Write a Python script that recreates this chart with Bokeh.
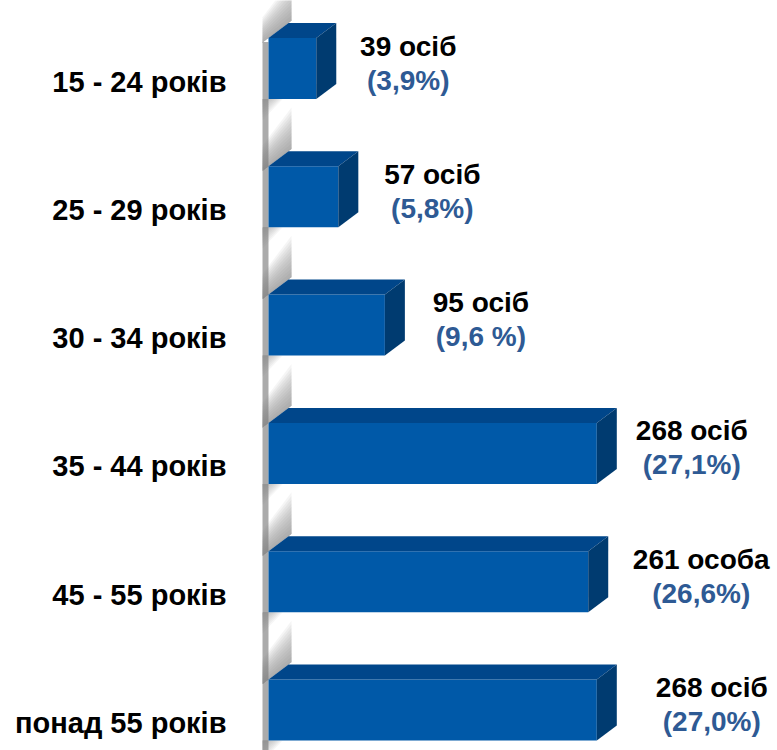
from bokeh.plotting import figure
from bokeh.models import Range1d
from bokeh.embed import file_html
from bokeh.resources import INLINE
from bokeh.core.properties import value

categories = ["15 - 24 років", "25 - 29 років", "30 - 34 років", "35 - 44 років", "45 - 55 років", "понад 55 років"]
counts = [39, 57, 95, 268, 261, 268]
count_labels = ["39 осіб", "57 осіб", "95 осіб", "268 осіб", "261 особа", "268 осіб"]
pct_labels = ["(3,9%)", "(5,8%)", "(9,6 %)", "(27,1%)", "(26,6%)", "(27,0%)"]

# label horizontal nudges (pixels, style only)
label_dx_px = [72, 74, 76, 75, 93, 95]

W, H = 777, 750
PX_X = 1.225           # pixels per person
PX_Y = 128.3           # pixels per row
x0 = -268 / PX_X
y0 = -(750 - 709.5) / PX_Y

def ux(px):
    return px / PX_X

def uy(px):
    return px / PX_Y

p = figure(width=W, height=H, output_backend="svg", toolbar_location=None,
           x_range=Range1d(x0, x0 + W / PX_X), y_range=Range1d(y0, y0 + H / PX_Y),
           min_border=0, outline_line_color=None, background_fill_color="white")
p.axis.visible = False
p.grid.visible = False

n = len(categories)
ypos = [n - 1 - i for i in range(n)]
hh = uy(30.5)
dx = ux(20)
dy = uy(15)

# wall strip
p.quad(left=[ux(-6)], right=[0], bottom=[y0], top=[ypos[0] + hh - uy(4)],
       fill_color="#ababab", line_color=None)

# shadow gradients on the wall above each bar (darker toward bar top edge and right)
steps = 12
xl, xr = ux(-6), dx + ux(3)
for i in range(n):
    yb = ypos[i] + hh
    yl = yb - uy(4.5)
    yr = yb + dy + uy(2.25)
    for s in range(steps):
        hl = uy(1 + s * 2.2)
        hr = uy(2 + s * 3.6)
        p.patch([xl, xr, xr, xl], [yl, yr, yr + hr, yl + hl],
                fill_color="#7a7a7a", fill_alpha=0.08, line_color=None)

# soft shadow just below each bar on the wall strip
for i in range(n):
    ybot = ypos[i] - hh
    for s in range(8):
        w = ux(3 + s * 1.6)
        h = uy(3 + s * 2.6)
        p.patch([ux(-6), w, ux(-6)], [ybot, ybot, ybot - h],
                fill_color="#7a7a7a", fill_alpha=0.07, line_color=None)

# bars
tops_x, tops_y, sides_x, sides_y = [], [], [], []
for i in range(n):
    v = counts[i]
    y = ypos[i]
    tops_x.append([0, v, v + dx, dx])
    tops_y.append([y + hh, y + hh, y + hh + dy, y + hh + dy])
    sides_x.append([v, v + dx, v + dx, v])
    sides_y.append([y - hh, y - hh + dy, y + hh + dy, y + hh])

p.quad(left=[0] * n, right=counts, bottom=[y - hh for y in ypos], top=[y + hh for y in ypos],
       fill_color="#0059a8", line_color=None)
p.patches(tops_x, tops_y, fill_color="#00468a", line_color=None)
p.patches(sides_x, sides_y, fill_color="#003b70", line_color=None)

# category labels
p.text(x=[ux(-42)] * n, y=[y - uy(13) for y in ypos], text=categories,
       text_align="right", text_baseline="middle", text_font=value("Liberation Sans"),
       text_font_style="bold", text_font_size="29px", text_color="#000000")

# value labels
lx = [counts[i] + dx + ux(label_dx_px[i]) for i in range(n)]
p.text(x=lx, y=[y + uy(22.5) for y in ypos], text=count_labels,
       text_align="center", text_baseline="middle", text_font=value("Liberation Sans"),
       text_font_style="bold", text_font_size="28px", text_color="#000000")
p.text(x=lx, y=[y - uy(11.5) for y in ypos], text=pct_labels,
       text_align="center", text_baseline="middle", text_font=value("Liberation Sans"),
       text_font_style="bold", text_font_size="28px", text_color="#2e5a94")

open("out.html", "w").write(file_html(p, INLINE))
